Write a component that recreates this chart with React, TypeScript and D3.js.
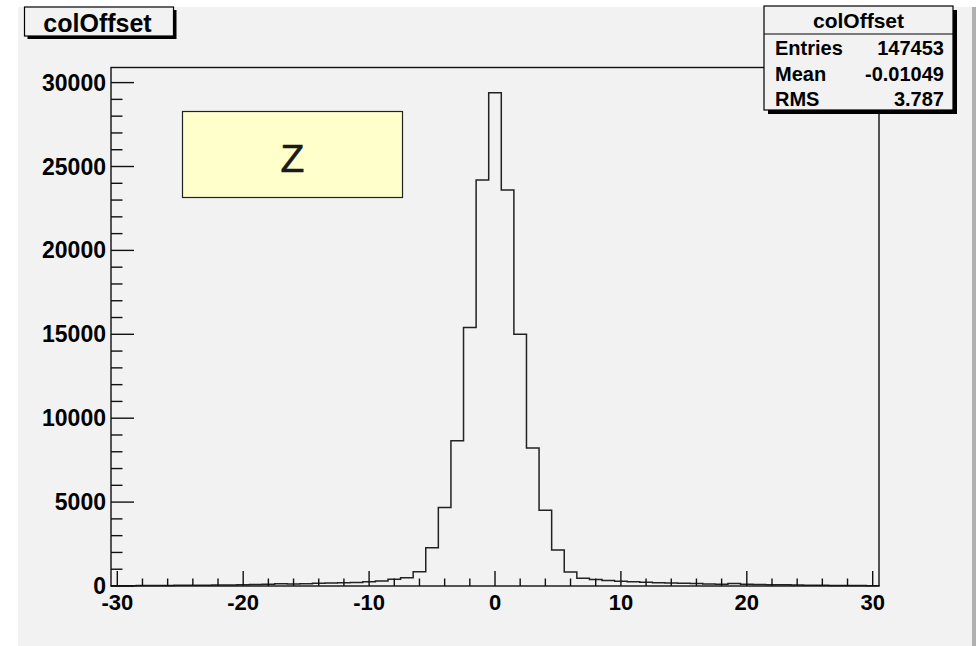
import React, {useEffect, useRef} from 'react';
import * as d3 from 'd3';

// bin centers of the colOffset histogram (bin width 1)
const bin_centers = [
  -30, -29, -28, -27, -26, -25, -24, -23, -22, -21,
  -20, -19, -18, -17, -16, -15, -14, -13, -12, -11,
  -10, -9, -8, -7, -6, -5, -4, -3, -2, -1,
  0, 1, 2, 3, 4, 5, 6, 7, 8, 9,
  10, 11, 12, 13, 14, 15, 16, 17, 18, 19,
  20, 21, 22, 23, 24, 25, 26, 27, 28, 29, 30,
];

// entries per bin
const bin_counts = [
  15, 20, 25, 30, 35, 40, 45, 50, 55, 65,
  75, 85, 110, 130, 120, 140, 160, 175, 190, 210,
  260, 300, 400, 490, 850, 2280, 4680, 8650, 15400, 24200,
  29400, 23600, 15000, 8230, 4520, 2140, 830, 460, 390, 330,
  290, 260, 230, 200, 180, 170, 150, 120, 110, 150,
  110, 90, 80, 70, 55, 45, 40, 35, 30, 25, 20,
];

const x_ticks_major = [-30, -20, -10, 0, 10, 20, 30];
const y_ticks_major = [0, 5000, 10000, 15000, 20000, 25000, 30000];

const stat_labels = ['Entries', 'Mean', 'RMS'];
const stat_values = ['147453', '-0.01049', '3.787'];

const hist_title = 'colOffset';
const pave_text = 'Z';

const FONT = '"Liberation Sans", Arial, Helvetica, sans-serif';

export default function App() {
  const ref = useRef<SVGSVGElement | null>(null);

  useEffect(() => {
    const svg = d3.select(ref.current);
    svg.selectAll('*').remove();

    const W = 976;
    const H = 646;

    // canvas background
    svg.append('rect').attr('x', 0).attr('y', 0).attr('width', W).attr('height', H).attr('fill', '#ffffff');
    svg.append('rect').attr('x', 18).attr('y', 7).attr('width', 954).attr('height', H - 7).attr('fill', '#f2f2f2');
    svg.append('rect').attr('x', 972).attr('y', 7).attr('width', 4).attr('height', H - 7).attr('fill', '#b0b0b0');

    const frame = {left: 111, right: 879, top: 67.5, bottom: 586};

    const x_scale = d3.scaleLinear().domain([-30.5, 30.5]).range([frame.left, frame.right]);
    const y_scale = d3.scaleLinear().domain([0, 30900]).range([frame.bottom, frame.top]);

    // histogram outline
    const pts: [number, number][] = [[-30.5, 0]];
    bin_centers.forEach((c, i) => {
      pts.push([c - 0.5, bin_counts[i]]);
      pts.push([c + 0.5, bin_counts[i]]);
    });
    pts.push([30.5, 0]);

    const line = d3
      .line<[number, number]>()
      .x((d) => x_scale(d[0]))
      .y((d) => y_scale(d[1]));

    svg
      .append('path')
      .datum(pts)
      .attr('fill', 'none')
      .attr('stroke', '#222')
      .attr('stroke-width', 1.5)
      .attr('d', line);

    // frame
    svg
      .append('rect')
      .attr('x', frame.left)
      .attr('y', frame.top)
      .attr('width', frame.right - frame.left)
      .attr('height', frame.bottom - frame.top)
      .attr('fill', 'none')
      .attr('stroke', '#111')
      .attr('stroke-width', 1.4);

    // x axis ticks (inside, pointing up)
    const x_minor = d3.range(-30, 30.001, 2);
    const xg = svg.append('g').attr('stroke', '#111').attr('stroke-width', 1.4);
    x_minor.forEach((v) => {
      const major = x_ticks_major.includes(v);
      xg.append('line')
        .attr('x1', x_scale(v))
        .attr('x2', x_scale(v))
        .attr('y1', frame.bottom)
        .attr('y2', frame.bottom - (major ? 15 : 7.5));
    });
    svg
      .append('g')
      .selectAll('text')
      .data(x_ticks_major)
      .join('text')
      .attr('x', (d) => x_scale(d))
      .attr('y', 610)
      .attr('text-anchor', 'middle')
      .attr('font-family', FONT)
      .attr('font-weight', 'bold')
      .attr('font-size', 22)
      .attr('fill', '#000')
      .text((d) => String(d));

    // y axis ticks (inside, pointing right)
    const y_minor = d3.range(0, 30001, 1000);
    const yg = svg.append('g').attr('stroke', '#111').attr('stroke-width', 1.4);
    y_minor.forEach((v) => {
      const major = y_ticks_major.includes(v);
      yg.append('line')
        .attr('x1', frame.left)
        .attr('x2', frame.left + (major ? 23 : 11.5))
        .attr('y1', y_scale(v))
        .attr('y2', y_scale(v));
    });
    svg
      .append('g')
      .selectAll('text')
      .data(y_ticks_major)
      .join('text')
      .attr('x', 106)
      .attr('y', (d) => y_scale(d) + 8)
      .attr('text-anchor', 'end')
      .attr('font-family', FONT)
      .attr('font-weight', 'bold')
      .attr('font-size', 23)
      .attr('fill', '#000')
      .text((d) => String(d));

    // yellow pave with "Z"
    svg
      .append('rect')
      .attr('x', 182.5)
      .attr('y', 111.5)
      .attr('width', 220)
      .attr('height', 86)
      .attr('fill', '#ffffcc')
      .attr('stroke', '#222')
      .attr('stroke-width', 1.2);
    svg
      .append('text')
      .attr('x', 292.5)
      .attr('y', 172)
      .attr('text-anchor', 'middle')
      .attr('font-family', FONT)
      .attr('font-size', 39)
      .attr('stroke', '#1a1a1a')
      .attr('stroke-width', 0.6)
      .attr('fill', '#1a1a1a')
      .text(pave_text);

    // title box
    svg.append('rect').attr('x', 27.5).attr('y', 10).attr('width', 149).attr('height', 29).attr('fill', '#000');
    svg
      .append('rect')
      .attr('x', 24.5)
      .attr('y', 7)
      .attr('width', 149)
      .attr('height', 29)
      .attr('fill', '#f2f2f2')
      .attr('stroke', '#000')
      .attr('stroke-width', 1.2);
    svg
      .append('text')
      .attr('x', 97.5)
      .attr('y', 32)
      .attr('text-anchor', 'middle')
      .attr('font-family', FONT)
      .attr('font-weight', 'bold')
      .attr('font-size', 25)
      .attr('fill', '#000')
      .text(hist_title);

    // stats box
    const sb = {x: 764, y: 6, w: 189, h: 104};
    svg.append('rect').attr('x', sb.x + 4).attr('y', sb.y + 4).attr('width', sb.w).attr('height', sb.h).attr('fill', '#000');
    svg
      .append('rect')
      .attr('x', sb.x)
      .attr('y', sb.y)
      .attr('width', sb.w)
      .attr('height', sb.h)
      .attr('fill', '#f2f2f2')
      .attr('stroke', '#000')
      .attr('stroke-width', 1.2);
    svg
      .append('line')
      .attr('x1', sb.x)
      .attr('x2', sb.x + sb.w)
      .attr('y1', 34)
      .attr('y2', 34)
      .attr('stroke', '#000')
      .attr('stroke-width', 1.2);
    svg
      .append('text')
      .attr('x', sb.x + sb.w / 2)
      .attr('y', 28)
      .attr('text-anchor', 'middle')
      .attr('font-family', FONT)
      .attr('font-weight', 'bold')
      .attr('font-size', 21)
      .attr('fill', '#000')
      .text(hist_title);

    const row_y = [55, 81, 106];
    stat_labels.forEach((lab, i) => {
      svg
        .append('text')
        .attr('x', 775)
        .attr('y', row_y[i])
        .attr('font-family', FONT)
        .attr('font-weight', 'bold')
        .attr('font-size', 20)
        .attr('fill', '#000')
        .text(lab);
      svg
        .append('text')
        .attr('x', 944)
        .attr('y', row_y[i])
        .attr('text-anchor', 'end')
        .attr('font-family', FONT)
        .attr('font-weight', 'bold')
        .attr('font-size', 20)
        .attr('fill', '#000')
        .text(stat_values[i]);
    });
  }, []);

  return (
    <svg
      ref={ref}
      width={976}
      height={646}
      style={{position: 'absolute', left: 0, top: 0, display: 'block'}}
    ></svg>
  );
}
